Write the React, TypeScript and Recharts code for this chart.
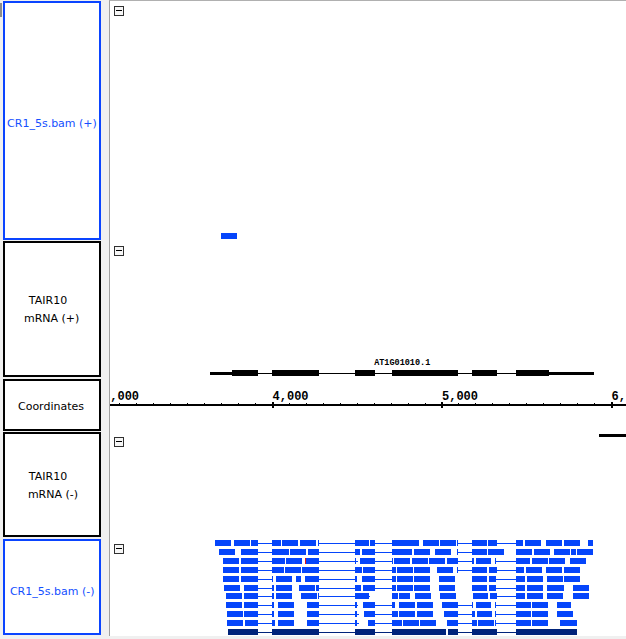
import React from 'react';
import { ComposedChart, XAxis, YAxis, ReferenceArea, ReferenceLine } from 'recharts';

type Span = [number, number];

// ---------- visible genomic window (bp) ----------
const VIEW_START = 3041;
const VIEW_END = 6085.5;

// ---------- coordinate axis ticks ----------
const coordMajorTicks = [3000, 4000, 5000, 6000];
const coordMinorTicks = [
  2700, 2800, 2900, 3100, 3200, 3300, 3400, 3500, 3600, 3700, 3800, 3900,
  4100, 4200, 4300, 4400, 4500, 4600, 4700, 4800, 4900,
  5100, 5200, 5300, 5400, 5500, 5600, 5700, 5800, 5900,
];

// ---------- track labels ----------
const trackLabelLines: string[][] = [
  ['CR1_5s.bam (+)'],
  ['TAIR10', 'mRNA (+)'],
  ['Coordinates'],
  ['TAIR10', 'mRNA (-)'],
  ['CR1_5s.bam (-)'],
];

// ---------- gene models ----------
const plusGeneName = 'AT1G01010.1';
const plusGeneSpan: Span = [3631, 5899];
const plusGeneCds: Span[] = [[3760, 3913], [3996, 4276], [4486, 4605], [4706, 5095], [5174, 5326], [5439, 5630]];
const plusGeneUtr: Span[] = [[3631, 3760], [5630, 5899]];
const plusGeneIntrons: Span[] = [[3913, 3996], [4276, 4486], [4605, 4706], [5095, 5174], [5326, 5439]];
const minusGeneUtr: Span[] = [[5928, 6263]];

// ---------- reads, + strand ----------
const plusRow01: Span[] = [[3696, 3791]];

// ---------- reads, - strand (one lane per array) ----------
const minusRow01: Span[] = [[3661, 3755], [3773, 3867], [3873, 3913], [3996, 4050], [4056, 4150], [4162, 4257], [4266, 4276], [4486, 4569], [4575, 4605], [4706, 4864], [4888, 4982], [4988, 5083], [5089, 5095], [5174, 5266], [5271, 5326], [5439, 5478], [5490, 5584], [5614, 5708], [5720, 5814], [5861, 5891]];
const minusGaps01: Span[] = [[3913, 3996], [4276, 4486], [4605, 4706], [5095, 5174], [5326, 5439]];

const minusRow02: Span[] = [[3684, 3779], [3814, 3913], [3996, 4001], [4005, 4097], [4103, 4198], [4209, 4276], [4486, 4516], [4528, 4605], [4706, 4823], [4835, 4929], [4959, 5053], [5089, 5095], [5174, 5266], [5271, 5366], [5439, 5531], [5543, 5637], [5661, 5755], [5761, 5791], [5797, 5891]];
const minusGaps02: Span[] = [[3913, 3996], [4276, 4486], [4605, 4706], [5095, 5174]];

const minusRow03: Span[] = [[3708, 3802], [3814, 3913], [3996, 4001], [4005, 4074], [4080, 4174], [4192, 4276], [4486, 4492], [4516, 4605], [4706, 4712], [4717, 4811], [4823, 4917], [4923, 5018], [5030, 5095], [5174, 5186], [5198, 5289], [5313, 5320], [5439, 5519], [5531, 5625], [5631, 5726], [5755, 5850]];
const minusGaps03: Span[] = [[3913, 3996], [4276, 4486], [4492, 4504], [4605, 4706], [5095, 5174], [5320, 5439]];
const minusMismatch03: Span[] = [[4192, 4198]];

const minusRow04: Span[] = [[3708, 3802], [3814, 3913], [3996, 4001], [4005, 4068], [4074, 4168], [4174, 4276], [4486, 4528], [4534, 4605], [4706, 4729], [4735, 4829], [4835, 4929], [4971, 5065], [5089, 5095], [5174, 5266], [5277, 5326], [5439, 5484], [5496, 5590], [5614, 5708], [5720, 5814]];
const minusGaps04: Span[] = [[3913, 3996], [4276, 4486], [4605, 4706], [5095, 5174], [5326, 5439]];

const minusRow05: Span[] = [[3708, 3802], [3814, 3913], [3996, 4001], [4021, 4115], [4139, 4168], [4192, 4276], [4486, 4499], [4528, 4605], [4706, 4729], [4735, 4829], [4835, 4929], [4982, 5077], [5174, 5266], [5277, 5319], [5439, 5490], [5502, 5596], [5620, 5714], [5720, 5814]];
const minusGaps05: Span[] = [[3913, 3996], [4276, 4486], [4605, 4706], [5319, 5439]];

const minusRow06: Span[] = [[3714, 3808], [3832, 3913], [3996, 4009], [4021, 4115], [4156, 4251], [4257, 4276], [4486, 4522], [4534, 4605], [4706, 4729], [4735, 4829], [4835, 4929], [4982, 5077], [5174, 5266], [5277, 5319], [5439, 5490], [5502, 5596], [5620, 5720], [5773, 5867]];
const minusGaps06: Span[] = [[3913, 3996], [4276, 4486], [4605, 4706], [5319, 5439]];

const minusRow07: Span[] = [[3726, 3820], [3832, 3913], [3996, 4009], [4021, 4115], [4168, 4263], [4268, 4276], [4486, 4569], [4706, 4740], [4746, 4811], [4841, 4935], [4988, 5083], [5180, 5271], [5283, 5326], [5439, 5490], [5502, 5596], [5620, 5714], [5773, 5867]];
const minusGaps07: Span[] = [[3913, 3996], [4276, 4486], [4569, 4575], [5326, 5439]];

const minusRow08: Span[] = [[3726, 3820], [3832, 3913], [3996, 4009], [4032, 4127], [4204, 4276], [4486, 4499], [4534, 4605], [4706, 4723], [4746, 4841], [4853, 4947], [5000, 5095], [5174, 5180], [5198, 5289], [5313, 5319], [5439, 5525], [5531, 5625], [5679, 5761]];
const minusGaps08: Span[] = [[3913, 3996], [4276, 4486], [4499, 4504], [4605, 4706], [5095, 5174], [5319, 5439]];

const minusRow09: Span[] = [[3732, 3826], [3832, 3913], [3996, 4009], [4032, 4127], [4204, 4276], [4486, 4499], [4540, 4605], [4706, 4740], [4746, 4841], [4853, 4947], [5012, 5095], [5174, 5192], [5204, 5295], [5313, 5319], [5439, 5525], [5531, 5625], [5679, 5773]];
const minusGaps09: Span[] = [[3913, 3996], [4276, 4486], [4499, 4510], [4605, 4706], [5095, 5174], [5319, 5439]];

const minusRow10: Span[] = [[3732, 3826], [3838, 3913], [3996, 4015], [4032, 4127], [4204, 4276], [4486, 4499], [4563, 4605], [4706, 4764], [4770, 4864], [4870, 4965], [5030, 5095], [5174, 5209], [5215, 5307], [5313, 5319], [5439, 5525], [5531, 5625], [5696, 5797]];
const minusGaps10: Span[] = [[3913, 3996], [4276, 4486], [4499, 4510], [4605, 4706], [5095, 5174], [5319, 5439]];

const minusRow11: Span[] = [[3737, 3913], [3996, 4276], [4486, 4605], [4706, 5024], [5035, 5095], [5174, 5326], [5439, 5797]];
const minusGaps11: Span[] = [[3913, 3996], [4276, 4486], [4605, 4706], [5095, 5174], [5326, 5439]];

// ---------- styles ----------
const PANEL_BG = '#f0f0f0';
const SEL_BLUE = '#0a44ff';
const READ_BLUE = '#0545fb';
const READ_NAVY = '#00237a';
const MISMATCH_RED = '#e5121b';
const MAIN_LEFT = 110;
const MAIN_WIDTH = 516;
const LANE_FILL = 0.674;
const GAP_Y = 0.39;
const ZERO_MARGIN = { top: 0, right: 0, bottom: 0, left: 0 };
const LABEL_FONT = '"DejaVu Sans", Verdana, sans-serif';

const fmtCoord = (v: number) => v.toLocaleString('en-US');

interface ReadTrackProps {
  top: number;
  height: number;
  reversed: boolean;
  lanes: Span[][];
  gaps: Span[][];
  colors: string[];
  marks?: Span[][];
}

function ReadTrack({ top, height, reversed, lanes, gaps, colors, marks }: ReadTrackProps) {
  return (
    <div style={{ position: 'absolute', left: MAIN_LEFT, top, width: MAIN_WIDTH, height, shapeRendering: 'crispEdges' }}>
      <ComposedChart width={MAIN_WIDTH} height={height} margin={ZERO_MARGIN}>
        <XAxis type="number" dataKey="x" domain={[VIEW_START, VIEW_END]} allowDataOverflow hide />
        <YAxis type="number" domain={[0, lanes.length]} allowDataOverflow hide reversed={reversed} />
        {gaps.flatMap((lane, i) =>
          lane.map(([s, e], j) => (
            <ReferenceLine
              key={`g${i}-${j}`}
              segment={[{ x: s, y: i + GAP_Y }, { x: e, y: i + GAP_Y }]}
              stroke={colors[i]}
              strokeWidth={1}
              ifOverflow="visible"
            />
          ))
        )}
        {lanes.flatMap((lane, i) =>
          lane.map(([s, e], j) => (
            <ReferenceArea
              key={`b${i}-${j}`}
              x1={s}
              x2={e}
              y1={i}
              y2={i + LANE_FILL}
              fill={colors[i]}
              fillOpacity={1}
              stroke="none"
              ifOverflow="visible"
            />
          ))
        )}
        {(marks || []).flatMap((lane, i) =>
          lane.map(([s, e], j) => (
            <ReferenceArea
              key={`m${i}-${j}`}
              x1={s}
              x2={e}
              y1={i}
              y2={i + LANE_FILL}
              fill={MISMATCH_RED}
              fillOpacity={1}
              stroke="none"
              ifOverflow="visible"
            />
          ))
        )}
      </ComposedChart>
    </div>
  );
}

const CoordTick = (props: any) => {
  const { x, y, payload } = props;
  const v = payload.value as number;
  if (coordMajorTicks.includes(v)) {
    return (
      <g>
        <line x1={x} x2={x} y1={y - 3.5} y2={y + 3} stroke="#000" strokeWidth={2} />
        <text
          x={x}
          y={y - 5}
          textAnchor="start"
          fontFamily='"Liberation Mono", "DejaVu Sans Mono", monospace'
          fontWeight="bold"
          fontSize={12}
          fill="#000"
        >
          {fmtCoord(v)}
        </text>
      </g>
    );
  }
  return <line x1={x} x2={x} y1={y - 2.5} y2={y} stroke="#000" strokeWidth={1} />;
};

const AXIS_PAD = 60;

function CoordinateAxis() {
  const bpPerPx = (VIEW_END - VIEW_START) / MAIN_WIDTH;
  const allTicks = [...coordMajorTicks, ...coordMinorTicks].sort((a, b) => a - b);
  return (
    <div style={{ position: 'absolute', left: MAIN_LEFT, top: 380, width: MAIN_WIDTH, height: 50, overflow: 'hidden', shapeRendering: 'crispEdges' }}>
      <div style={{ position: 'absolute', left: -AXIS_PAD, top: 0 }}>
        <ComposedChart width={MAIN_WIDTH + AXIS_PAD} height={50} margin={ZERO_MARGIN}>
          <XAxis
            type="number"
            dataKey="x"
            domain={[VIEW_START - AXIS_PAD * bpPerPx, VIEW_END]}
            allowDataOverflow
            ticks={allTicks}
            interval={0}
            tick={(p: any) => <CoordTick {...p} />}
            tickLine={false}
            tickSize={0}
            tickMargin={0}
            axisLine={{ stroke: '#000', strokeWidth: 2 }}
            height={25}
          />
          <YAxis type="number" domain={[0, 1]} allowDataOverflow hide />
        </ComposedChart>
      </div>
    </div>
  );
}

function PlusGeneTrack() {
  return (
    <div style={{ position: 'absolute', left: MAIN_LEFT, top: 356, width: MAIN_WIDTH, height: 24, shapeRendering: 'crispEdges' }}>
      <ComposedChart width={MAIN_WIDTH} height={24} margin={ZERO_MARGIN}>
        <XAxis type="number" dataKey="x" domain={[VIEW_START, VIEW_END]} allowDataOverflow hide />
        <YAxis type="number" domain={[-17, 7]} allowDataOverflow hide reversed />
        {plusGeneIntrons.map(([s, e], i) => (
          <ReferenceLine key={`i${i}`} segment={[{ x: s, y: 0.5 }, { x: e, y: 0.5 }]} stroke="#000" strokeWidth={1} ifOverflow="visible" />
        ))}
        {plusGeneUtr.map(([s, e], i) => (
          <ReferenceArea key={`u${i}`} x1={s} x2={e} y1={-1.5} y2={1.5} fill="#000" fillOpacity={1} stroke="none" ifOverflow="visible" />
        ))}
        {plusGeneCds.map(([s, e], i) => (
          <ReferenceArea key={`c${i}`} x1={s} x2={e} y1={-3} y2={3} fill="#000" fillOpacity={1} stroke="none" ifOverflow="visible" />
        ))}
        <ReferenceArea
          x1={plusGeneSpan[0]}
          x2={plusGeneSpan[1]}
          y1={-15}
          y2={-7}
          fillOpacity={0}
          stroke="none"
          ifOverflow="visible"
          label={{
            value: plusGeneName,
            position: 'center',
            fill: '#000',
            fontSize: 8.5,
            fontWeight: 'bold',
            fontFamily: '"Liberation Mono", "DejaVu Sans Mono", monospace',
          }}
        />
      </ComposedChart>
    </div>
  );
}

function MinusGeneTrack() {
  return (
    <div style={{ position: 'absolute', left: MAIN_LEFT, top: 431, width: MAIN_WIDTH, height: 24, shapeRendering: 'crispEdges' }}>
      <ComposedChart width={MAIN_WIDTH} height={24} margin={ZERO_MARGIN}>
        <XAxis type="number" dataKey="x" domain={[VIEW_START, VIEW_END]} allowDataOverflow hide />
        <YAxis type="number" domain={[-4.5, 19.5]} allowDataOverflow hide reversed />
        {minusGeneUtr.map(([s, e], i) => (
          <ReferenceArea key={`mu${i}`} x1={s} x2={e} y1={-1.5} y2={1.5} fill="#000" fillOpacity={1} stroke="none" ifOverflow="hidden" />
        ))}
      </ComposedChart>
    </div>
  );
}

const panelBoxes = [
  { top: 1, height: 239, color: SEL_BLUE },
  { top: 241, height: 136, color: '#000' },
  { top: 379, height: 52, color: '#000' },
  { top: 432, height: 105, color: '#000' },
  { top: 539, height: 96, color: SEL_BLUE },
];

const labelCenters: { cx: number; cy: number }[][] = [
  [{ cx: 52, cy: 124 }],
  [{ cx: 48, cy: 301 }, { cx: 51.7, cy: 319 }],
  [{ cx: 51, cy: 407 }],
  [{ cx: 48, cy: 477 }, { cx: 53, cy: 495 }],
  [{ cx: 52.2, cy: 591.5 }],
];

const collapseTops = [6, 246, 437, 544];

function CollapseBox({ top }: { top: number }) {
  return (
    <div
      style={{
        position: 'absolute',
        left: 114,
        top,
        width: 10,
        height: 10,
        boxSizing: 'border-box',
        border: '1px solid #303030',
        background: '#f6f6f6',
      }}
    >
      <div style={{ position: 'absolute', left: 1, top: 3, width: 6, height: 1, background: '#000' }} />
    </div>
  );
}

export default function App() {
  return (
    <div
      style={{
        position: 'fixed',
        left: 0,
        top: 0,
        width: 626,
        height: 639,
        overflow: 'hidden',
        background: PANEL_BG,
        fontFamily: LABEL_FONT,
      }}
    >
      {/* left edge scrap */}
      <div style={{ position: 'absolute', left: 0, top: 3, width: 2, height: 14, background: '#8c8c8c' }} />

      {/* label panels */}
      {panelBoxes.map((p, i) => (
        <div
          key={`p${i}`}
          style={{
            position: 'absolute',
            left: 3,
            top: p.top,
            width: 98,
            height: p.height,
            boxSizing: 'border-box',
            border: `2px solid ${p.color}`,
            background: '#fff',
          }}
        />
      ))}
      {trackLabelLines.map((lines, i) =>
        lines.map((t, j) => (
          <div
            key={`l${i}-${j}`}
            style={{
              position: 'absolute',
              left: labelCenters[i][j].cx - 50,
              top: labelCenters[i][j].cy - 7,
              width: 100,
              height: 14,
              lineHeight: '14px',
              textAlign: 'center',
              fontSize: 11,
              whiteSpace: 'nowrap',
              color: panelBoxes[i].color === SEL_BLUE ? '#1450ff' : '#000',
            }}
          >
            {t}
          </div>
        ))
      )}

      {/* main data area */}
      <div
        style={{
          position: 'absolute',
          left: 109,
          top: 0,
          width: 517,
          height: 636,
          boxSizing: 'border-box',
          background: '#fff',
          borderLeft: '1px solid #a0a0a0',
          borderTop: '1px solid #b0b0b0',
        }}
      />

      <ReadTrack top={230} height={9} reversed={false} lanes={[plusRow01]} gaps={[[]]} colors={[READ_BLUE]} />
      <PlusGeneTrack />
      <CoordinateAxis />
      <MinusGeneTrack />
      <ReadTrack
        top={540}
        height={98}
        reversed
        lanes={[minusRow01, minusRow02, minusRow03, minusRow04, minusRow05, minusRow06, minusRow07, minusRow08, minusRow09, minusRow10, minusRow11]}
        gaps={[minusGaps01, minusGaps02, minusGaps03, minusGaps04, minusGaps05, minusGaps06, minusGaps07, minusGaps08, minusGaps09, minusGaps10, minusGaps11]}
        colors={[READ_BLUE, READ_BLUE, READ_BLUE, READ_BLUE, READ_BLUE, READ_BLUE, READ_BLUE, READ_BLUE, READ_BLUE, READ_BLUE, READ_NAVY]}
        marks={[[], [], minusMismatch03]}
      />

      {collapseTops.map((t) => (
        <CollapseBox key={`c${t}`} top={t} />
      ))}
    </div>
  );
}
